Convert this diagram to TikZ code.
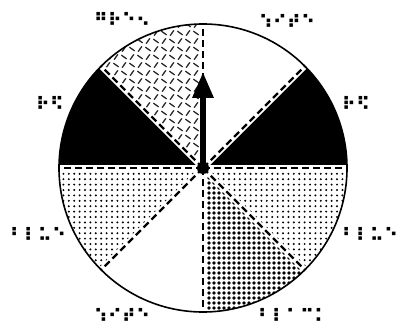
\documentclass[tikz,border=0pt]{standalone}
\usepackage{fontspec}
\newfontfamily\braillefont{DejaVu Sans Bold}
\usetikzlibrary{arrows.meta}

\begin{document}
\begin{tikzpicture}[x=1pt,y=1pt,
  brl/.style={inner sep=0pt, font=\braillefont\fontsize{18}{18}\selectfont},
  band/.style={white, line width=6pt},
  divider/.style={black, line width=2.2pt, dash pattern=on 7pt off 4pt},
  plate/.style={black!85, line width=1.3pt},
  pointer/.style={line width=6pt, -{Triangle[width=20pt,length=26pt]}}
]
\useasboundingbox (0,0) rectangle (398,327);
\coordinate (C) at (203,159);
\foreach \a [count=\k from 0] in {0,45,...,315}
  \path (C) ++(\a:144) coordinate (r\k);

% red sectors
\fill[black] (C) -- (r0) arc[start angle=0,end angle=45,radius=144] -- cycle;
\fill[black] (C) -- (r3) arc[start angle=135,end angle=180,radius=144] -- cycle;

% green sector
\begin{scope}
  \clip (C) -- (r2) arc[start angle=90,end angle=135,radius=144] -- cycle;
  \foreach \i in {0,...,13}
    \foreach \j in {0,...,18} {
      \pgfmathsetmacro\ang{mod(\i+\j,2)==0 ? 55 : -35}
      \draw[plate] (100+8*\i,158+8*\j) ++(\ang:-3.2) -- ++(\ang:6.4);
    }
\end{scope}

% blue sectors
\begin{scope}
  \clip (C) -- (r4) arc[start angle=180,end angle=225,radius=144] -- cycle;
  \foreach \i in {0,...,27}
    \foreach \j in {0,...,19}
      \fill (58+5.4*\i,56+5.4*\j) circle[radius=1.1];
\end{scope}
\begin{scope}
  \clip (C) -- (r7) arc[start angle=315,end angle=360,radius=144] -- cycle;
  \foreach \i in {0,...,27}
    \foreach \j in {0,...,19}
      \fill (202+5.4*\i,56+5.4*\j) circle[radius=1.1];
\end{scope}

% black sector
\begin{scope}
  \clip (C) -- (r6) arc[start angle=270,end angle=315,radius=144] -- cycle;
  \foreach \i in {0,...,21}
    \foreach \j in {0,...,29}
      \fill (204+5*\i,14+5*\j) circle[radius=1.85];
\end{scope}

\node[circle, fill=black, inner sep=0pt, minimum size=12pt] (hub) at (C) {};
\foreach \k in {0,...,7} {
  \draw[band] (hub.center) -- (r\k);
  \draw[divider] (hub.center) -- (r\k);
}
\draw[line width=1.6pt] (C) circle[radius=144];

\coordinate (tip) at (203,255);
\draw[pointer] (hub.center) -- (tip);
\node[circle, fill=black, inner sep=0pt, minimum size=12pt] at (hub) {};

\node[brl] (green)  at (122,308) {⠛⠗⠑⠢};
\node[brl] (whiteA) at (287,306) {⠱⠊⠞⠑};
\node[brl] (redA)   at (50,224)  {⠗⠫};
\node[brl] (redB)   at (356,224) {⠗⠫};
\node[brl] (blueA)  at (38,93)   {⠃⠇⠥⠑};
\node[brl] (blueB)  at (370,93)  {⠃⠇⠥⠑};
\node[brl] (whiteB) at (122,12)  {⠱⠊⠞⠑};
\node[brl] (black)  at (293,12)  {⠃⠇⠁⠉⠅};
\end{tikzpicture}
\end{document}
